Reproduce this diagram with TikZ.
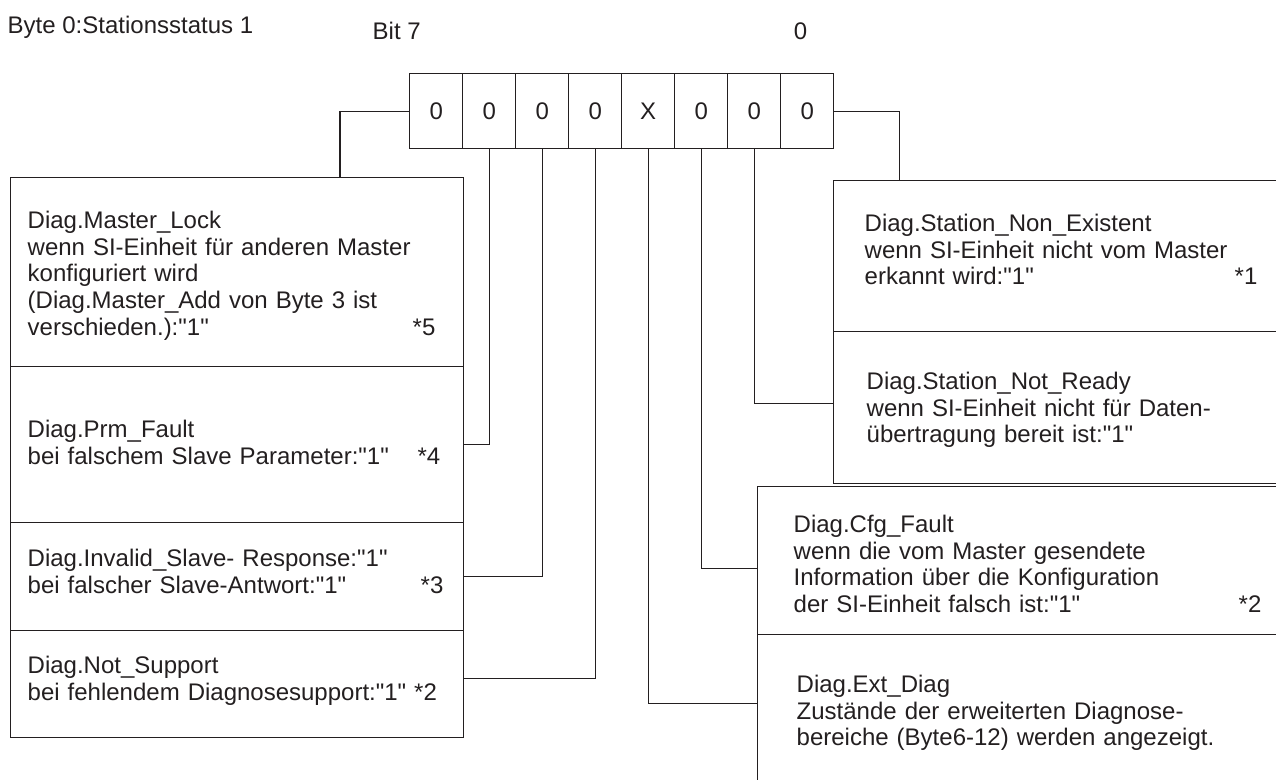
\documentclass[tikz,border=0pt]{standalone}
\usepackage{fontspec}
\newfontfamily\diagfont{Liberation Sans}
\usetikzlibrary{positioning}
\definecolor{ink}{RGB}{35,31,32}

\begin{document}
\begin{tikzpicture}[x=1pt,y=-1pt,line width=1.4pt,color=ink,
   txt/.style={inner sep=0pt,font=\diagfont\fontsize{24}{26.6}\selectfont},
   bitcell/.style={txt,draw,anchor=north west,minimum width=53pt,minimum height=75pt},
   diagbox/.style n args={4}{txt,draw,anchor=north west,align=left,inner xsep=#1,text width=#2,text height=#3,text depth=#4}]
\useasboundingbox (0,0) rectangle (1276,779);
\clip (0,0) rectangle (1276,779);
\node[txt,anchor=base west] (title) at (7,33) {Byte 0:Stationsstatus 1};
\node[txt,anchor=base west] (msb) at (372,39) {Bit 7};
\node[txt,anchor=base] (lsb) at (800.5,39) {0};
\foreach \v [count=\i from 0] in {0,0,0,0,X,0,0,0} {
   \pgfmathtruncatemacro\bitno{7-\i}
   \node[bitcell] (b\bitno) at (409+53*\i,73) {\v};
}
\node[diagbox={17pt}{419pt}{51pt}{138pt}] (lock) at (10,177)
   {Diag.Master\_Lock\\wenn SI-Einheit für anderen Master\\konfiguriert wird\\(Diag.Master\_Add von Byte 3 ist\\\makebox[385pt][l]{verschieden.):"1"}*5};
\node[diagbox={17pt}{419pt}{71pt}{85pt}] (prm) at (10,366)
   {Diag.Prm\_Fault\\\makebox[390pt][l]{bei falschem Slave Parameter:"1"}*4};
\node[diagbox={17pt}{419pt}{44pt}{64pt}] (inval) at (10,522)
   {Diag.Invalid\_Slave- Response:"1"\\\makebox[393pt][l]{bei falscher Slave-Antwort:"1"}*3};
\node[diagbox={17pt}{419pt}{43pt}{64pt}] (notsup) at (10,630)
   {Diag.Not\_Support\\bei fehlendem Diagnosesupport:"1" *2};
\node[diagbox={31pt}{405pt}{51pt}{100pt}] (exist) at (833,180)
   {Diag.Station\_Non\_Existent\\wenn SI-Einheit nicht vom Master\\\makebox[370pt][l]{erkannt wird:"1"}*1};
\node[diagbox={33pt}{401pt}{58pt}{94pt}] (ready) at (833,331)
   {Diag.Station\_Not\_Ready\\wenn SI-Einheit nicht für Daten-\\übertragung bereit ist:"1"};
\node[diagbox={36pt}{471pt}{46pt}{102pt}] (cfg) at (757,486)
   {Diag.Cfg\_Fault\\wenn die vom Master gesendete\\Information über die Konfiguration\\\makebox[445pt][l]{der SI-Einheit falsch ist:"1"}*2};
\node[diagbox={39pt}{465pt}{58pt}{108pt}] (ext) at (757,634)
   {Diag.Ext\_Diag\\Zustände der erweiterten Diagnose-\\bereiche (Byte6-12) werden angezeigt.};
\draw (b7.west) -- ++(-69,0) coordinate (k7) -- (k7 |- lock.north);
\draw (b0.east) -- ++(65,0) coordinate (k0) -- (k0 |- exist.north);
\draw (b6.south) |- (prm.east);
\draw (b5.south) |- (inval.east);
\draw (b4.south) |- ([yshift=5.5pt]notsup.east);
\draw (b3.south) |- ([yshift=14pt]ext.west);
\draw (b2.south) |- ([yshift=-8pt]cfg.west);
\draw (b1.south) |- ([yshift=4pt]ready.west);
\end{tikzpicture}
\end{document}
